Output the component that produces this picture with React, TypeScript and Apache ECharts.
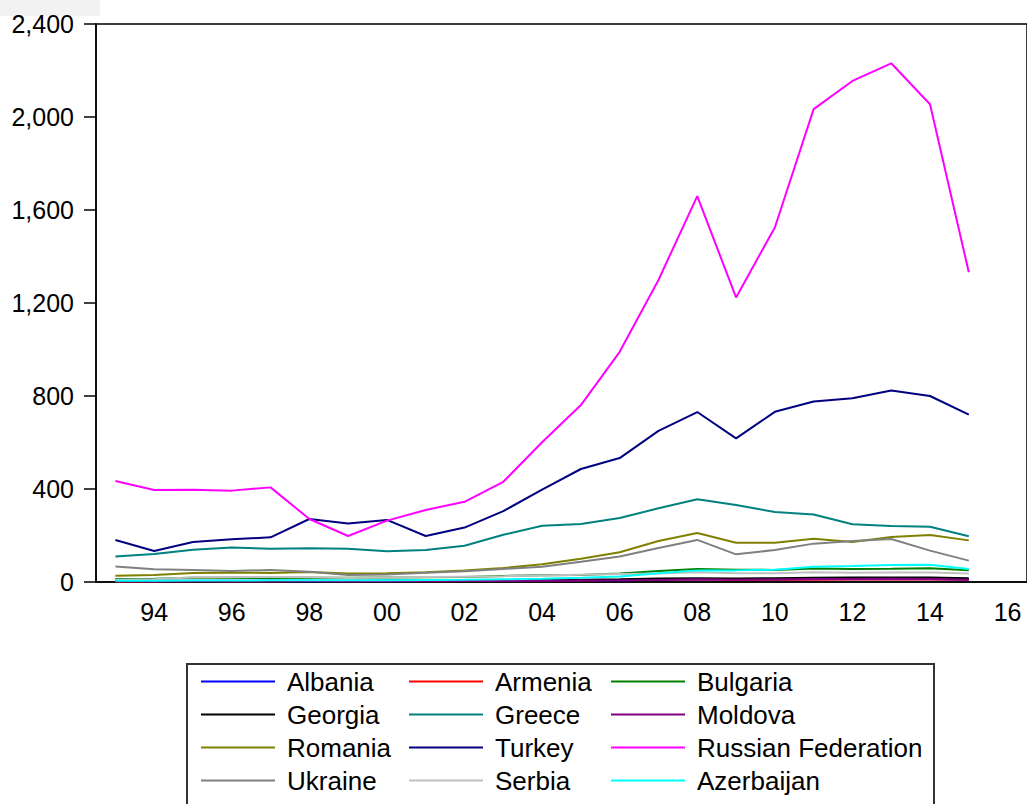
import React, { useEffect, useRef } from "react";
import * as echarts from "echarts";

const years = ["93","94","95","96","97","98","99","00","01","02","03","04","05","06","07","08","09","10","11","12","13","14","15","16"];

const albania = [2, 2, 3, 3, 3, 3, 4, 4, 4, 5, 5, 6, 7, 8, 10, 12, 11, 11, 12, 12, 12, 12, 11];
const armenia = [2, 2, 3, 3, 3, 4, 4, 4, 5, 5, 6, 7, 8, 9, 11, 12, 9, 10, 10, 11, 11, 12, 11];
const bulgaria = [13, 14, 18, 18, 17, 18, 18, 19, 20, 22, 26, 29, 30, 37, 47, 56, 53, 52, 58, 56, 57, 59, 51];
const georgia = [4, 3, 3, 4, 5, 5, 5, 6, 6, 6, 7, 8, 10, 12, 15, 16, 15, 16, 18, 19, 19, 19, 16];
const greece = [110, 120, 139, 148, 143, 145, 143, 132, 138, 156, 203, 242, 249, 275, 317, 356, 331, 301, 290, 248, 241, 238, 197];
const moldova = [6, 5, 5, 5, 5, 4, 3, 3, 3, 4, 4, 5, 6, 7, 9, 12, 10, 11, 13, 13, 14, 13, 10];
const romania = [27, 30, 39, 40, 39, 43, 37, 38, 42, 49, 60, 76, 100, 128, 176, 211, 169, 169, 186, 172, 194, 202, 179];
const turkey = [181, 133, 172, 184, 192, 271, 252, 267, 198, 234, 305, 397, 486, 533, 650, 731, 618, 732, 776, 790, 824, 800, 720];
const russia = [434, 396, 397, 393, 407, 271, 198, 264, 310, 345, 431, 601, 761, 990, 1299, 1660, 1224, 1525, 2034, 2155, 2231, 2055, 1332];
const ukraine = [67, 55, 52, 47, 52, 44, 30, 32, 40, 46, 56, 66, 87, 110, 146, 181, 119, 138, 165, 176, 185, 135, 92];
const serbia = [10, 12, 20, 21, 22, 22, 17, 19, 21, 23, 25, 28, 31, 34, 37, 42, 38, 38, 42, 40, 41, 41, 37];
const azerbaijan = [5, 5, 6, 6, 7, 8, 7, 8, 9, 10, 12, 14, 18, 24, 38, 50, 50, 53, 66, 69, 73, 74, 56];

const seriesDefs = [
  { name: "Albania", data: albania, color: "#0000FF" },
  { name: "Armenia", data: armenia, color: "#FF0000" },
  { name: "Bulgaria", data: bulgaria, color: "#008000" },
  { name: "Georgia", data: georgia, color: "#000000" },
  { name: "Greece", data: greece, color: "#008080" },
  { name: "Moldova", data: moldova, color: "#800080" },
  { name: "Romania", data: romania, color: "#808000" },
  { name: "Turkey", data: turkey, color: "#000080" },
  { name: "Russian Federation", data: russia, color: "#FF00FF" },
  { name: "Ukraine", data: ukraine, color: "#808080" },
  { name: "Serbia", data: serbia, color: "#C0C0C0" },
  { name: "Azerbaijan", data: azerbaijan, color: "#00FFFF" },
];

const legendCols = [
  ["Albania", "Georgia", "Romania", "Ukraine"],
  ["Armenia", "Greece", "Turkey", "Serbia"],
  ["Bulgaria", "Moldova", "Russian Federation", "Azerbaijan"],
];

const FONT = "'Liberation Sans', Arial, sans-serif";

export default function App() {
  const ref = useRef<HTMLDivElement>(null);
  useEffect(() => {
    document.body.style.margin = "0";
    const chart = echarts.init(ref.current!, null, { renderer: "svg" });
    const legendLefts = [201, 409, 611];
    const option: any = {
      animation: false,
      backgroundColor: "#ffffff",
      textStyle: { fontFamily: FONT },
      grid: { left: 96, right: -4, top: 24, bottom: 222, show: true, borderColor: "#000", borderWidth: 1.5 },
      xAxis: {
        type: "category",
        data: years,
        boundaryGap: true,
        axisLine: { lineStyle: { color: "#000", width: 1.5 } },
        axisTick: { interval: 0, length: 11, lineStyle: { color: "#000", width: 1.5 } },
        axisLabel: {
          interval: (i: number) => i % 2 === 1,
          margin: 17,
          fontSize: 25,
          color: "#000",
          fontFamily: FONT,
        },
        splitLine: { show: false },
      },
      yAxis: {
        type: "value",
        min: 0,
        max: 2400,
        interval: 400,
        axisLine: { show: true, lineStyle: { color: "#000", width: 1.5 } },
        axisTick: { show: true, length: 12, lineStyle: { color: "#000", width: 1.5 } },
        axisLabel: {
          margin: 22,
          fontSize: 25,
          color: "#000",
          fontFamily: FONT,
          formatter: (v: number) => v.toLocaleString("en-US"),
        },
        splitLine: { show: false },
      },
      legend: legendCols.map((names, i) => ({
        orient: "vertical",
        left: legendLefts[i],
        top: 665,
        data: names,
        icon: "rect",
        itemWidth: 74,
        itemHeight: 2,
        itemGap: 0,
        selectedMode: false,
        padding: 0,
        textStyle: { fontSize: 26, lineHeight: 33, color: "#000", fontFamily: FONT, padding: [0, 0, 0, 7] },
      })),
      graphic: [
        { type: "rect", shape: { x: 0, y: 0, width: 100, height: 16 }, style: { fill: "#f2f2f2" }, silent: true },
        { type: "rect", shape: { x: 187, y: 664, width: 747, height: 160 }, style: { fill: "none", stroke: "#333", lineWidth: 2 }, silent: true },
      ],
      series: seriesDefs.map((s) => ({
        name: s.name,
        type: "line",
        data: s.data,
        showSymbol: false,
        symbol: "none",
        color: s.color,
        lineStyle: { color: s.color, width: 2 },
      })),
    };
    chart.setOption(option);
    return () => chart.dispose();
  }, []);
  return <div ref={ref} style={{ width: 1027, height: 804 }} />;
}
